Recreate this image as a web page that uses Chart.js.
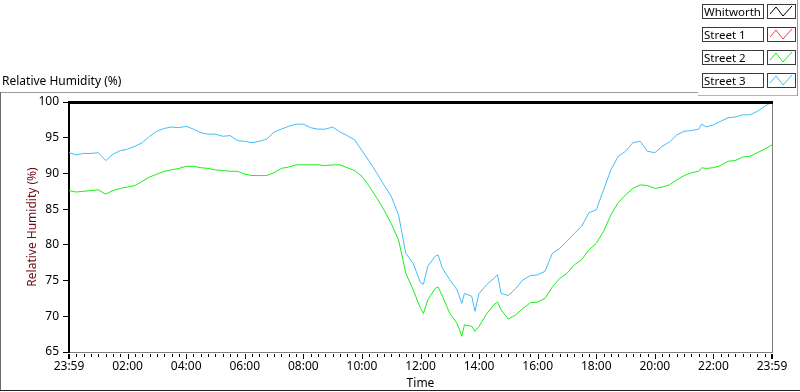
<!DOCTYPE html>
<html>
<head>
<meta charset="utf-8">
<script src="https://cdn.jsdelivr.net/npm/chart.js@4.4.1/dist/chart.umd.min.js"></script>
<style>
  body { margin: 0; background: #fff; }
  #wrap { position: relative; width: 800px; height: 392px; overflow: hidden; font-family: "Noto Sans", sans-serif; color: #000; }
  #chart { position: absolute; left: 0; top: 0; }
  .text { position: absolute; font-size: 12px; line-height: 14px; white-space: nowrap; }
  .line { position: absolute; }
  .legend-name { position: absolute; left: 702px; width: 62px; height: 15px; box-sizing: border-box; border: 1px solid #3a3a3a; font-size: 11.5px; line-height: 13px; padding-left: 1px; white-space: nowrap; overflow: hidden; }
  .legend-icon { position: absolute; left: 767px; width: 29px; height: 15px; box-sizing: border-box; border: 1px solid #3a3a3a; }
</style>
</head>
<body>
<div id="wrap">
  <canvas id="chart" width="800" height="392"></canvas>
  <div class="text" style="left:2px; top:74px;">Relative Humidity (%)</div>
  <div class="line" style="left:0; top:92px; width:698px; height:1px; background:#9a9a9a;"></div>
  <div class="line" style="left:698px; top:95px; width:99px; height:1px; background:#b4b4b4;"></div>
  <div class="line" style="left:797px; top:0; width:1px; height:96px; background:#9a9a9a;"></div>
  <div class="line" style="left:0; top:92px; width:1px; height:299px; background:#6a6a6a;"></div>
  <div class="line" style="left:0; top:390px; width:800px; height:1px; background:#222;"></div>
  <div id="legend"></div>
</div>
<script>
// hours after 23:59 on the start day
const times = [
  0, 0.25, 0.5, 0.75, 1, 1.25, 1.5, 1.75, 2, 2.25, 2.5, 2.75, 3, 3.25, 3.5, 3.75, 4, 4.25, 4.5, 4.75,
  5, 5.25, 5.5, 5.75, 6, 6.25, 6.5, 6.75, 7, 7.25, 7.5, 7.75, 8, 8.25, 8.5, 8.75, 9, 9.25, 9.5,
  9.75, 10, 10.25, 10.5, 10.75, 11, 11.25, 11.5, 11.75, 12, 12.1, 12.25, 12.5, 12.6, 12.75, 13, 13.25, 13.41, 13.5, 13.75, 13.86, 14, 14.25,
  14.5, 14.63, 14.75, 15, 15.25, 15.5, 15.75, 16, 16.25, 16.5, 16.75, 17, 17.25, 17.5, 17.75, 18, 18.25, 18.5, 18.75, 19,
  19.25, 19.5, 19.75, 20, 20.25, 20.5, 20.75, 21, 21.25, 21.5, 21.6, 21.75, 22, 22.25, 22.5, 22.75, 23, 23.25, 23.5, 23.75, 24,
];

const street2 = [
  87.6, 87.4, 87.5, 87.6, 87.7, 87.1, 87.6, 87.9, 88.1, 88.3, 88.9, 89.5, 89.9, 90.3, 90.5, 90.7, 91.0, 91.0, 90.8, 90.7,
  90.5, 90.4, 90.3, 90.3, 89.9, 89.7, 89.7, 89.7, 90.1, 90.7, 90.9, 91.2, 91.2, 91.2, 91.2, 91.1, 91.2, 91.2, 90.8,
  90.4, 89.6, 88.2, 86.6, 84.9, 83.0, 80.7, 76.0, 73.7, 71.1, 70.4, 72.3, 73.9, 74.1, 72.8, 70.4, 69.0, 67.2, 68.8, 68.6, 67.9, 68.6, 70.3,
  71.6, 72.0, 70.9, 69.6, 70.2, 71.1, 71.9, 72.0, 72.5, 74.1, 75.3, 76.0, 77.2, 77.9, 79.3, 80.2, 81.9, 84.2, 85.9, 87.0,
  87.9, 88.4, 88.3, 87.9, 88.1, 88.4, 89.1, 89.7, 90.1, 90.3, 90.8, 90.7, 90.8, 91.1, 91.7, 91.8, 92.3, 92.4, 92.9, 93.4, 94.0,
];

const street3 = [
  92.9, 92.6, 92.8, 92.8, 92.9, 91.8, 92.7, 93.2, 93.4, 93.8, 94.3, 95.2, 95.9, 96.3, 96.5, 96.4, 96.6, 96.2, 95.7, 95.5,
  95.5, 95.2, 95.3, 94.6, 94.5, 94.3, 94.5, 94.8, 95.8, 96.2, 96.6, 96.9, 96.9, 96.4, 96.2, 96.2, 96.5, 95.8, 95.3,
  94.7, 93.2, 91.7, 90.1, 88.4, 86.8, 84.2, 78.8, 77.4, 74.7, 74.5, 77.0, 78.4, 78.6, 76.7, 75.1, 73.7, 71.8, 73.2, 72.8, 70.7, 73.2, 74.4,
  75.3, 75.8, 73.2, 72.9, 73.9, 75.1, 75.7, 75.8, 76.3, 78.8, 79.5, 80.5, 81.6, 82.6, 84.5, 84.9, 87.7, 90.5, 92.4, 93.1,
  94.3, 94.5, 93.1, 92.9, 93.8, 94.4, 95.4, 95.9, 96.0, 96.2, 96.9, 96.5, 96.8, 97.3, 97.8, 97.9, 98.2, 98.2, 98.7, 99.4, 100,
];

// no samples were plotted for these two
const whitworth = [];
const street1 = [];

const seriesNames = ["Whitworth", "Street 1", "Street 2", "Street 3"];
const seriesColors = ["#000000", "#ff3b3b", "#17f017", "#3fbdfa"];

const xTickHours = [0, 2, 4, 6, 8, 10, 12, 14, 16, 18, 20, 22, 24];
const xTickLabels = ["23:59", "02:00", "04:00", "06:00", "08:00", "10:00", "12:00", "14:00", "16:00", "18:00", "20:00", "22:00", "23:59"];
const yMin = 65;
const yMax = 100;
const yStep = 5;

const FONT = "'Noto Sans', sans-serif";

function toPoints(values) {
  return values.map((v, i) => ({ x: times[i], y: v }));
}

const datasets = [whitworth, street1, street2, street3].map((values, i) => ({
  label: seriesNames[i],
  data: toPoints(values),
  borderColor: seriesColors[i],
  borderWidth: 1,
  pointRadius: 0,
  tension: 0,
  fill: false,
}));

// legend boxes on the top right
const legend = document.querySelector("#legend");
legend.innerHTML = seriesNames
  .map((name, i) => {
    const top = 4 + i * 23;
    return `
      <div class="legend-name" style="top:${top}px">${name}</div>
      <div class="legend-icon" style="top:${top}px">
        <svg width="27" height="13" style="display:block">
          <polyline points="2,9 8,2 15,11 24,1" fill="none" stroke="${seriesColors[i]}" stroke-width="1"/>
        </svg>
      </div>`;
  })
  .join("");

// frame of the plot area and the small time ticks
const framePlugin = {
  id: "frame",
  afterDraw(chart) {
    const { ctx, chartArea } = chart;
    const xScale = chart.scales.x;
    ctx.save();

    ctx.strokeStyle = "#808080";
    ctx.lineWidth = 1;
    ctx.beginPath();
    ctx.moveTo(chartArea.right + 0.5, chartArea.top);
    ctx.lineTo(chartArea.right + 0.5, chartArea.bottom);
    ctx.stroke();

    ctx.strokeStyle = "#000";
    ctx.lineWidth = 3;
    ctx.beginPath();
    ctx.moveTo(chartArea.left - 1, chartArea.top + 0.5);
    ctx.lineTo(chartArea.right + 1, chartArea.top + 0.5);
    ctx.stroke();

    ctx.fillStyle = "#000";
    for (let q = 0; q <= 96; q++) {
      const px = Math.round(xScale.getPixelForValue(q / 4));
      const major = q % 8 === 0;
      const edge = q === 0 || q === 96;
      ctx.fillRect(px - (edge ? 1 : 0), chartArea.bottom + 2, edge ? 2 : 1, major ? 5 : 3);
    }
    ctx.restore();
  },
};

new Chart(document.querySelector("#chart"), {
  type: "line",
  data: { datasets },
  plugins: [framePlugin],
  options: {
    responsive: false,
    animation: false,
    devicePixelRatio: 1,
    layout: { padding: { top: 102, right: 28, bottom: 0, left: 0 } },
    plugins: {
      legend: { display: false },
      tooltip: { enabled: false },
    },
    scales: {
      x: {
        type: "linear",
        min: 0,
        max: 24,
        afterFit: (scale) => { scale.height = 40; },
        afterBuildTicks: (scale) => { scale.ticks = xTickHours.map((v) => ({ value: v })); },
        ticks: {
          autoSkip: false,
          maxRotation: 0,
          padding: 7,
          color: "#000",
          font: { family: FONT, size: 12 },
          callback: (value) => xTickLabels[xTickHours.indexOf(value)],
        },
        grid: { display: false, drawTicks: false },
        border: { display: true, color: "#808080", width: 1 },
        title: {
          display: true,
          text: "Time",
          color: "#000",
          font: { family: FONT, size: 12 },
          padding: { top: 0, bottom: 1 },
        },
      },
      y: {
        min: yMin,
        max: yMax,
        afterFit: (scale) => { scale.width = 69; },
        ticks: {
          stepSize: yStep,
          padding: 4,
          color: "#000",
          font: { family: FONT, size: 12 },
        },
        grid: { drawOnChartArea: false, drawTicks: true, tickLength: 6, color: "#000" },
        border: { display: true, color: "#000", width: 2 },
        title: {
          display: true,
          text: "Relative Humidity (%)",
          color: "#6e0b14",
          font: { family: FONT, size: 12 },
          padding: { top: 25, bottom: 0 },
        },
      },
    },
  },
});
</script>
</body>
</html>
